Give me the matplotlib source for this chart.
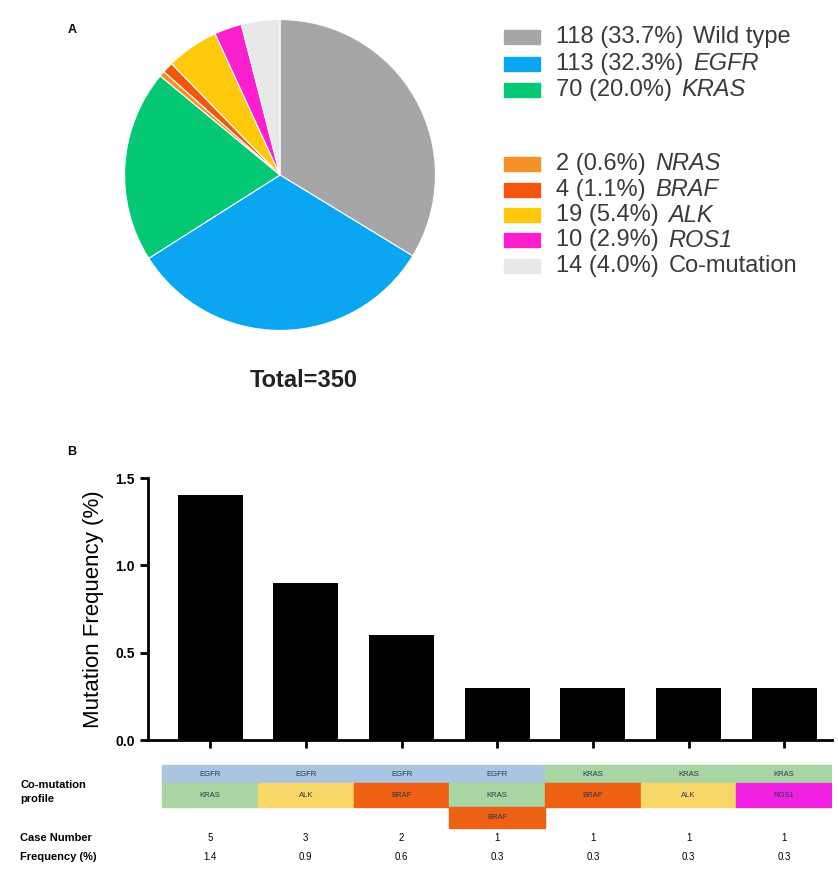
import matplotlib
matplotlib.use("Agg")
from matplotlib import pyplot as plt
from matplotlib.patches import Rectangle

plt.rcParams['font.family'] = ['Liberation Sans', 'DejaVu Sans']

# datos panel A (distribucion de mutaciones)
grupos = ["Wild type", "EGFR", "KRAS", "NRAS", "BRAF", "ALK", "ROS1", "Co-mutation"]
casos = [118, 113, 70, 2, 4, 19, 10, 14]
cursiva = [False, True, True, True, True, True, True, False]
colores_pie = ["#a6a6a6", "#0aa6f2", "#05c874", "#f59126", "#f3560e",
               "#fdc90a", "#fb1fce", "#e8e8e8"]

# datos panel B (co-mutaciones)
frecuencia = [1.4, 0.9, 0.6, 0.3, 0.3, 0.3, 0.3]
num_casos = [5, 3, 2, 1, 1, 1, 1]
fila1 = ["EGFR", "EGFR", "EGFR", "EGFR", "KRAS", "KRAS", "KRAS"]
fila2 = ["KRAS", "ALK", "BRAF", "KRAS", "BRAF", "ALK", "ROS1"]
fila3 = ["", "", "", "BRAF", "", "", ""]
colores_gen = {"EGFR": "#a9c5e2", "KRAS": "#a8d5a2", "ALK": "#f7d768",
               "BRAF": "#ee6014", "ROS1": "#ee22e0"}

W, H = 838, 871
fig = plt.figure(figsize=(W / 100, H / 100), dpi=100)


def caja(x, y, w, h):
    # rectangulo en pixeles (origen arriba a la izquierda) -> coords de figura
    return [x / W, 1 - (y + h) / H, w / W, h / H]


# capa de fondo en pixeles para textos y leyenda
fondo = fig.add_axes([0, 0, 1, 1])
fondo.set_xlim(0, W)
fondo.set_ylim(H, 0)
fondo.axis("off")

fondo.text(72, 30, "A", fontsize=9, fontweight="bold", ha="center", va="center")
fondo.text(72, 452, "B", fontsize=9, fontweight="bold", ha="center", va="center")

# pie
ax1 = fig.add_axes(caja(123, 18, 314, 314))
ax1.pie(casos, colors=colores_pie, startangle=90, counterclock=False,
        wedgeprops=dict(edgecolor="white", linewidth=0.8))
ax1.set_xlim(-1.01, 1.01)
ax1.set_ylim(-1.01, 1.01)
fondo.text(304, 380, "Total=%d" % sum(casos), fontsize=17, fontweight="bold",
           ha="center", va="center", color="#222222")

# leyenda
total = sum(casos)
y_leg = [37, 64, 90, 164, 190, 215, 240, 266]
for k in range(len(grupos)):
    fondo.add_patch(Rectangle((504, y_leg[k] - 7), 36, 14, color=colores_pie[k]))
    num = "%d (%.1f%%)" % (casos[k], 100 * casos[k] / total)
    t = fondo.text(556, y_leg[k], num, fontsize=17, ha="left", va="center",
                   color="#3a3a3a")
    estilo = "italic" if cursiva[k] else "normal"
    fondo.annotate(grupos[k], xy=(1, 0.5), xycoords=t, xytext=(7, 0),
                   textcoords="offset points", fontsize=17, style=estilo,
                   ha="left", va="center", color="#3a3a3a")

# barras
x = list(range(len(frecuencia)))
ax2 = fig.add_axes(caja(148, 478, 684, 262))
ax2.bar(x, frecuencia, width=0.68, color="black")
ax2.set_xlim(-0.65, 6.5)
ax2.set_ylim(0, 1.5)
ax2.set_yticks([0, 0.5, 1.0, 1.5])
ax2.set_yticklabels(["0.0", "0.5", "1.0", "1.5"], fontsize=10, fontweight="bold")
ax2.set_xticks(x)
ax2.set_xticklabels([])
ax2.spines["top"].set_visible(False)
ax2.spines["right"].set_visible(False)
ax2.spines["left"].set_linewidth(2)
ax2.spines["bottom"].set_linewidth(2)
ax2.tick_params(width=2, length=6)
ax2.set_ylabel("Mutation Frequency (%)", fontsize=16, labelpad=8)

# tabla de perfiles debajo de las barras
ax3 = fig.add_axes(caja(148, 755, 684, 115))
ax3.set_xlim(-0.65, 6.5)
ax3.set_ylim(870, 755)
ax3.axis("off")
filas = [(fila1, 765, 18), (fila2, 783, 24), (fila3, 807, 21)]
for fila, y0, alto in filas:
    for i in x:
        gen = fila[i]
        if gen == "":
            continue
        ax3.add_patch(Rectangle((i - 0.5, y0), 1.0, alto, color=colores_gen[gen]))
        ax3.text(i, y0 + alto / 2, gen, fontsize=5.5, ha="center", va="center",
                 color="#2b3550")
for i in x:
    ax3.text(i, 838, str(num_casos[i]), fontsize=7, ha="center", va="center")
    ax3.text(i, 857, "%.1f" % frecuencia[i], fontsize=7, ha="center", va="center")

fondo.text(20, 792, "Co-mutation\nprofile", fontsize=8, fontweight="bold",
           ha="left", va="center", linespacing=1.5)
fondo.text(20, 838, "Case Number", fontsize=8, fontweight="bold",
           ha="left", va="center")
fondo.text(20, 857, "Frequency (%)", fontsize=8, fontweight="bold",
           ha="left", va="center")

plt.savefig("out.png", dpi=100)
